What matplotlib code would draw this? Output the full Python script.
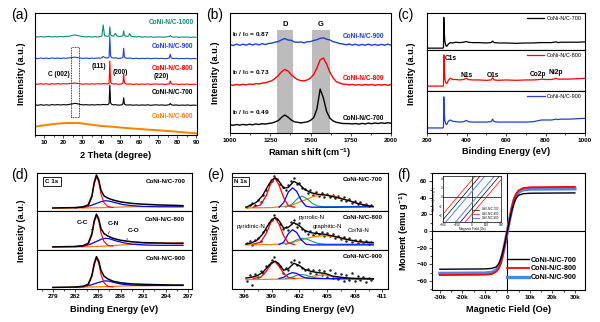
import numpy as np
import matplotlib
matplotlib.use('Agg')
import matplotlib.pyplot as plt
from matplotlib.ticker import MultipleLocator, FuncFormatter, NullLocator
from matplotlib.patches import Rectangle
from matplotlib.lines import Line2D

plt.rcParams['font.family'] = ['Liberation Sans', 'DejaVu Sans']
plt.rcParams['mathtext.fontset'] = 'custom'
plt.rcParams['mathtext.rm'] = 'Liberation Sans'
plt.rcParams['mathtext.bf'] = 'Liberation Sans:bold'
plt.rcParams['axes.linewidth'] = 0.8

# ---------------- DATA ----------------
# (a) XRD
xrd_x = [5, 6.5, 8, 9.5, 11, 12.5, 14, 15.5, 17, 18.5, 20, 21.5, 23, 24.5, 26, 27.5, 29, 30.5, 32, 33.5,
         35, 36.5, 38, 39.5, 40.3, 41.0, 41.7, 43.5, 44.1, 44.5, 44.9, 45.5, 46.5, 47.4, 48.3, 49.5, 50.8,
         51.4, 51.8, 52.2, 53, 54.3, 55, 55.7, 57, 58.5, 60, 61.5, 63, 64.5, 66, 67.5, 69, 70.5, 72, 73.5,
         75, 75.9, 76.4, 76.9, 78, 79.5, 81, 82.5, 84, 85.5, 87, 88.5, 90]
xrd_1000 = [98.4, 97.9, 98.5, 98.0, 98.3, 98.6, 98.0, 98.4, 98.1, 98.5, 98.2, 98.7, 98.8, 99.4, 100.2, 99.5,
            98.8, 98.4, 98.1, 98.4, 97.9, 98.3, 98.0, 98.5, 99.0, 110.0, 99.2, 98.7, 99.5, 108.3, 100.0, 99.2,
            98.8, 101.7, 99.0, 98.5, 98.7, 99.5, 104.0, 99.5, 98.7, 98.8, 101.5, 98.9, 98.3, 98.1, 98.4, 97.8,
            98.2, 97.9, 98.3, 97.7, 98.0, 98.1, 97.8, 98.0, 98.2, 98.4, 99.5, 98.3, 97.9, 98.1, 97.7, 98.0,
            97.8, 98.1, 97.6, 97.9, 97.7]
xrd_900 = [76.8, 76.3, 77.0, 76.5, 76.9, 76.4, 77.1, 76.6, 76.9, 76.5, 77.0, 76.7, 77.2, 77.4, 77.9, 77.3,
           76.9, 76.6, 77.0, 76.5, 76.9, 76.6, 77.0, 76.8, 77.5, 78.5, 77.4, 77.0, 78.0, 98.3, 79.0, 77.3,
           76.9, 77.3, 76.8, 76.6, 77.0, 77.8, 86.7, 77.8, 76.9, 76.6, 77.1, 76.7, 76.4, 76.8, 76.3, 76.7,
           76.4, 76.8, 76.3, 76.6, 76.8, 76.4, 76.7, 76.3, 76.6, 77.2, 80.7, 77.0, 76.5, 76.8, 76.2, 76.6,
           76.3, 76.7, 76.2, 76.5, 76.3]
xrd_800 = [51.2, 50.7, 51.3, 50.8, 51.2, 50.7, 51.3, 50.9, 51.4, 50.9, 51.3, 51.0, 51.4, 51.6, 52.0, 51.5,
           51.1, 50.8, 51.2, 50.8, 51.2, 50.9, 51.3, 51.0, 51.2, 51.5, 51.2, 51.1, 52.0, 74.0, 53.0, 51.4,
           51.0, 51.3, 50.9, 50.8, 51.1, 52.0, 60.7, 52.0, 51.0, 50.8, 51.2, 50.9, 50.6, 51.0, 50.6, 51.0,
           50.7, 51.1, 50.6, 50.9, 51.1, 50.7, 51.0, 50.6, 50.9, 51.3, 54.0, 51.2, 50.7, 51.0, 50.5, 50.9,
           50.6, 51.0, 50.5, 50.8, 50.6]
xrd_700 = [30.2, 29.7, 30.3, 29.8, 30.2, 29.8, 30.4, 30.0, 30.4, 30.0, 30.4, 30.1, 30.6, 31.0, 31.7, 31.2,
           30.5, 30.1, 30.4, 30.0, 30.3, 30.0, 30.4, 30.1, 30.3, 30.6, 30.3, 30.4, 31.5, 50.0, 32.0, 30.6,
           30.1, 30.4, 30.0, 29.9, 30.2, 31.0, 37.3, 31.0, 30.1, 29.9, 30.3, 30.0, 29.8, 30.1, 29.7, 30.1,
           29.8, 30.2, 29.7, 30.0, 30.2, 29.8, 30.1, 29.7, 30.0, 30.4, 31.5, 30.3, 29.8, 30.1, 29.6, 30.0,
           29.7, 30.1, 29.6, 29.9, 29.7]
xrd_600 = [8.3, 8.8, 9.3, 9.6, 10.0, 10.4, 10.8, 11.1, 11.4, 11.6, 11.7, 11.9, 12.0, 11.9, 12.1, 12.0,
           11.7, 11.4, 11.0, 10.6, 10.2, 9.9, 9.6, 9.2, 9.0, 8.9, 8.8, 8.6, 8.5, 8.5, 8.4, 8.3, 8.1, 7.9,
           7.8, 7.6, 7.4, 7.3, 7.2, 7.1, 7.0, 6.8, 6.7, 6.6, 6.4, 6.2, 6.0, 5.8, 5.6, 5.4, 5.2, 5.0, 4.8,
           4.6, 4.4, 4.2, 4.0, 3.9, 3.8, 3.8, 3.6, 3.4, 3.1, 2.9, 2.6, 2.4, 2.1, 1.9, 1.7]
xrd_names = ['CoNi-N/C-1000', 'CoNi-N/C-900', 'CoNi-N/C-800', 'CoNi-N/C-700', 'CoNi-N/C-600']
xrd_label_y = [113, 88, 67, 42, 19]
xrd_hkl = ['C (002)', '(111)', '(200)', '(220)']
xrd_hkl_x = [17.5, 38.6, 50.2, 71.5]
xrd_hkl_y = [60, 68, 63, 58]
xrd_box = [23.8, 17.7, 28.3, 88.3]

# (b) Raman
raman_x = [1000, 1020, 1040, 1060, 1080, 1100, 1120, 1140, 1160, 1180, 1200, 1220, 1240, 1260, 1280, 1300,
           1320, 1340, 1360, 1380, 1400, 1420, 1440, 1460, 1480, 1500, 1520, 1540, 1560, 1580, 1600, 1620,
           1640, 1660, 1680, 1700, 1720, 1740, 1760, 1780, 1800, 1820, 1840, 1860, 1880, 1900, 1920, 1940,
           1960, 1980, 2000]
raman_900 = [88.5, 87.4, 88.9, 87.7, 88.8, 87.8, 89.2, 88.0, 89.1, 88.1, 89.4, 88.4, 89.6, 89.8, 90.9, 91.4,
             93.1, 94.5, 93.0, 92.7, 91.0, 90.7, 91.1, 90.1, 91.3, 91.4, 92.5, 93.3, 94.7, 95.2, 93.8, 93.1,
             91.3, 90.6, 89.4, 89.1, 88.2, 89.0, 87.9, 88.8, 87.6, 88.6, 87.8, 88.9, 87.7, 88.6, 87.6, 88.7,
             87.8, 88.8, 87.9]
raman_800 = [48.3, 47.7, 48.6, 47.9, 48.7, 48.1, 49.0, 48.5, 49.4, 49.1, 49.9, 50.2, 51.3, 52.3, 54.6, 57.4,
             61.1, 63.6, 62.0, 58.4, 55.6, 53.4, 52.4, 52.1, 53.1, 54.9, 58.6, 65.0, 73.2, 75.0, 69.0, 61.0,
             55.1, 51.4, 50.1, 48.9, 48.7, 48.1, 48.6, 47.8, 48.4, 47.7, 48.5, 47.9, 48.6, 47.6, 48.4, 47.8,
             48.5, 47.7, 48.3]
raman_700 = [8.2, 7.7, 8.5, 7.9, 8.6, 8.0, 8.7, 8.2, 9.0, 8.5, 9.3, 8.9, 9.6, 9.9, 11.1, 12.4,
             15.6, 18.0, 15.9, 13.1, 11.2, 10.7, 10.1, 10.6, 11.1, 12.6, 15.4, 24.0, 44.0, 35.0, 21.5, 15.0,
             12.1, 10.7, 10.1, 9.5, 9.4, 9.4, 9.1, 9.5, 8.9, 9.6, 9.1, 9.9, 9.3, 10.0, 9.5, 10.2, 9.6,
             10.3, 9.8]
raman_D = [1294, 1390]
raman_G = [1507, 1621]
raman_ratio = ['0.87', '0.73', '0.49']
raman_ratio_y = [98, 60, 20]
raman_label_y = [96, 55, 15]

# (c) XPS survey
sv_x = [200, 260, 281, 283.5, 285, 287, 290, 295, 300, 308, 318, 330, 345, 365, 385, 400, 408, 430, 460, 500,
        525, 532, 540, 560, 600, 650, 700, 740, 770, 780, 800, 830, 855, 862, 880, 920, 960, 1000]
sv_700 = [0.05, 0.05, 0.05, 0.08, 0.88, 0.55, 0.25, 0.12, 0.10, 0.16, 0.20, 0.19, 0.21, 0.20, 0.21, 0.23,
          0.21, 0.20, 0.20, 0.19, 0.20, 0.24, 0.20, 0.19, 0.19, 0.18, 0.19, 0.19, 0.20, 0.20, 0.20, 0.20,
          0.22, 0.20, 0.21, 0.21, 0.21, 0.22]
sv_800 = [0.12, 0.12, 0.12, 0.15, 0.88, 0.60, 0.30, 0.20, 0.18, 0.26, 0.31, 0.28, 0.28, 0.27, 0.28, 0.31,
          0.28, 0.27, 0.27, 0.26, 0.27, 0.32, 0.27, 0.26, 0.27, 0.26, 0.27, 0.27, 0.28, 0.29, 0.28, 0.28,
          0.31, 0.29, 0.29, 0.29, 0.30, 0.31]
sv_900 = [0.12, 0.12, 0.12, 0.15, 0.86, 0.55, 0.30, 0.22, 0.20, 0.28, 0.31, 0.28, 0.27, 0.26, 0.27, 0.30,
          0.27, 0.26, 0.26, 0.26, 0.27, 0.33, 0.27, 0.26, 0.26, 0.26, 0.26, 0.27, 0.30, 0.31, 0.31, 0.31,
          0.33, 0.32, 0.33, 0.33, 0.34, 0.35]
sv_peaks = ['C1s', 'N1s', 'O1s', 'Co2p', 'Ni2p']
sv_peaks_x = [292, 401, 534, 762, 853]
sv_peaks_y = [0.80, 0.39, 0.37, 0.41, 0.45]

# (d) C 1s
c1s_env_x = [279, 280.5, 282, 283, 283.7, 284.2, 284.5, 284.8, 285.1, 285.4, 285.8, 286.3, 287, 288, 289.5,
             291, 293, 295, 296.3]
c1s_env = {
    '700': [0.08, 0.085, 0.09, 0.11, 0.16, 0.40, 0.75, 0.95, 0.82, 0.55, 0.40, 0.34, 0.29, 0.24, 0.20, 0.18, 0.16, 0.15, 0.14],
    '800': [0.08, 0.085, 0.09, 0.11, 0.17, 0.42, 0.75, 0.92, 0.80, 0.55, 0.42, 0.36, 0.30, 0.25, 0.21, 0.19, 0.18, 0.17, 0.17],
    '900': [0.04, 0.045, 0.05, 0.07, 0.12, 0.35, 0.65, 0.83, 0.72, 0.48, 0.33, 0.26, 0.20, 0.16, 0.13, 0.12, 0.11, 0.10, 0.10],
}
c1s_cc_x = [283, 283.7, 284.2, 284.5, 284.8, 285.1, 285.4, 285.8, 286.3, 287]
c1s_cc = {
    '700': [0.085, 0.12, 0.36, 0.70, 0.90, 0.77, 0.45, 0.22, 0.12, 0.09],
    '800': [0.09, 0.13, 0.38, 0.70, 0.88, 0.75, 0.44, 0.22, 0.12, 0.10],
    '900': [0.05, 0.09, 0.32, 0.60, 0.79, 0.67, 0.38, 0.16, 0.07, 0.05],
}
c1s_cn_x = [282, 283, 284, 284.8, 285.5, 286, 286.5, 287.3, 288.3, 289.5, 291, 293, 295, 296.3]
c1s_cn = {
    '700': [0.085, 0.10, 0.14, 0.20, 0.25, 0.27, 0.26, 0.22, 0.17, 0.14, 0.12, 0.11, 0.11, 0.11],
    '800': [0.09, 0.10, 0.15, 0.22, 0.28, 0.30, 0.29, 0.24, 0.19, 0.15, 0.13, 0.12, 0.12, 0.12],
    '900': [0.05, 0.06, 0.10, 0.15, 0.19, 0.21, 0.20, 0.16, 0.12, 0.10, 0.09, 0.09, 0.09, 0.09],
}
c1s_co_x = [279, 283, 286, 289, 292, 296.3]
c1s_co = {
    '700': [0.07, 0.08, 0.09, 0.11, 0.12, 0.13],
    '800': [0.07, 0.08, 0.10, 0.14, 0.17, 0.19],
    '900': [0.04, 0.05, 0.06, 0.08, 0.09, 0.10],
}

# (e) N 1s
n1s_env_x = [396.2, 396.8, 397.4, 398.0, 398.5, 399.0, 399.4, 399.8, 400.3, 400.8, 401.4, 402.0, 402.6, 403.3,
             404.0, 404.8, 405.6, 406.5, 407.4, 408.3, 409.2, 410.0]
n1s_env = {
    '700': [0.10, 0.16, 0.24, 0.40, 0.62, 0.82, 0.87, 0.78, 0.60, 0.62, 0.78, 0.70, 0.56, 0.48, 0.44, 0.42, 0.38, 0.33, 0.27, 0.20, 0.15, 0.12],
    '800': [0.15, 0.18, 0.25, 0.40, 0.60, 0.78, 0.83, 0.75, 0.56, 0.58, 0.70, 0.62, 0.50, 0.44, 0.42, 0.40, 0.36, 0.31, 0.26, 0.22, 0.20, 0.19],
    '900': [0.28, 0.30, 0.34, 0.42, 0.55, 0.68, 0.71, 0.64, 0.48, 0.52, 0.66, 0.60, 0.50, 0.45, 0.42, 0.40, 0.33, 0.30, 0.28, 0.27, 0.27, 0.26],
}
n1s_pyd_x = [397.0, 397.8, 398.4, 398.9, 399.35, 399.8, 400.3, 400.8, 401.5]
n1s_pyd = {
    '700': [0.10, 0.16, 0.40, 0.72, 0.87, 0.68, 0.35, 0.14, 0.10],
    '800': [0.15, 0.20, 0.42, 0.70, 0.83, 0.66, 0.36, 0.18, 0.14],
    '900': [0.27, 0.30, 0.45, 0.63, 0.71, 0.58, 0.40, 0.30, 0.27],
}
n1s_pyr_x = [399.8, 400.3, 400.8, 401.25, 401.7, 402.2, 402.7, 403.3, 406.0, 410.0]
n1s_pyr = {
    '700': [0.10, 0.22, 0.50, 0.61, 0.52, 0.28, 0.13, 0.10, 0.10, 0.11],
    '800': [0.14, 0.20, 0.42, 0.52, 0.45, 0.26, 0.15, 0.13, 0.13, 0.13],
    '900': [0.27, 0.30, 0.38, 0.42, 0.40, 0.33, 0.28, 0.27, 0.26, 0.26],
}
n1s_gra_x = [400.5, 401.2, 401.8, 402.3, 402.8, 403.4, 404.0, 404.8, 407.0, 410.0]
n1s_gra = {
    '700': [0.10, 0.18, 0.33, 0.39, 0.33, 0.20, 0.13, 0.11, 0.12, 0.12],
    '800': [0.14, 0.20, 0.27, 0.30, 0.28, 0.22, 0.17, 0.15, 0.15, 0.15],
    '900': [0.27, 0.30, 0.36, 0.37, 0.35, 0.30, 0.28, 0.27, 0.27, 0.26],
}
n1s_coni_x = [396.2, 399.0, 401.0, 402.5, 403.5, 404.7, 405.8, 407.0, 408.3, 409.5, 410.0]
n1s_coni = {
    '700': [0.08, 0.09, 0.14, 0.28, 0.38, 0.43, 0.39, 0.30, 0.20, 0.14, 0.12],
    '800': [0.13, 0.14, 0.18, 0.28, 0.34, 0.37, 0.34, 0.27, 0.21, 0.17, 0.16],
    '900': [0.24, 0.25, 0.26, 0.28, 0.33, 0.36, 0.31, 0.27, 0.26, 0.25, 0.25],
}
n1s_pts_x = [396.3, 396.6, 396.9, 397.2, 397.5, 397.8, 398.1, 398.4, 398.7, 399.0, 399.3, 399.6, 399.9, 400.2,
             400.5, 400.8, 401.1, 401.4, 401.7, 402.0, 402.3, 402.6, 402.9, 403.2, 403.5, 403.8, 404.1, 404.4,
             404.7, 405.0, 405.3, 405.6, 405.9, 406.2, 406.5, 406.8, 407.1, 407.4, 407.7, 408.0, 408.3, 408.6,
             408.9, 409.2, 409.5, 409.8]
n1s_pts = {
    '700': [0.10, 0.15, 0.20, 0.16, 0.28, 0.25, 0.42, 0.55, 0.72, 0.80, 0.92, 0.83, 0.70, 0.62, 0.55, 0.68, 0.80,
            0.86, 0.72, 0.75, 0.60, 0.58, 0.48, 0.55, 0.42, 0.50, 0.40, 0.47, 0.38, 0.46, 0.36, 0.42, 0.33, 0.40,
            0.30, 0.36, 0.26, 0.32, 0.22, 0.27, 0.18, 0.24, 0.15, 0.19, 0.12, 0.15],
    '800': [0.17, 0.22, 0.14, 0.26, 0.30, 0.24, 0.45, 0.52, 0.68, 0.78, 0.90, 0.80, 0.66, 0.55, 0.60, 0.52, 0.72,
            0.76, 0.60, 0.68, 0.55, 0.50, 0.42, 0.48, 0.38, 0.46, 0.40, 0.45, 0.36, 0.44, 0.35, 0.40, 0.30, 0.36,
            0.28, 0.34, 0.24, 0.30, 0.20, 0.26, 0.18, 0.25, 0.17, 0.22, 0.15, 0.20],
    '900': [0.20, 0.35, 0.10, 0.38, 0.30, 0.45, 0.40, 0.58, 0.62, 0.75, 0.82, 0.66, 0.60, 0.42, 0.55, 0.50, 0.70,
            0.75, 0.62, 0.68, 0.55, 0.48, 0.52, 0.40, 0.50, 0.38, 0.50, 0.35, 0.45, 0.32, 0.50, 0.28, 0.42, 0.25,
            0.38, 0.20, 0.35, 0.24, 0.40, 0.20, 0.33, 0.22, 0.30, 0.18, 0.28, 0.22],
}

# (f) magnetisation
mag_H = [-30000, -10000, -7000, -5000, -4000, -3000, -2000, -1000, 0, 1000, 2000, 3000, 4000, 5000, 7000, 10000, 30000]
mag_700 = [-46.0, -45.6, -45.0, -43.2, -40.0, -34.0, -25.0, -13.0, 0, 13.0, 25.0, 34.0, 40.0, 43.2, 45.0, 45.6, 46.0]
mag_800 = [-53.0, -52.6, -51.8, -49.0, -45.5, -39.5, -28.5, -14.5, 0, 14.5, 28.5, 39.5, 45.5, 49.0, 51.8, 52.8, 53.3]
mag_900 = [-51.0, -50.6, -49.8, -47.0, -43.5, -37.5, -27.0, -14.0, 0, 14.0, 27.0, 37.5, 43.5, 47.0, 49.8, 50.6, 51.0]
loop_H = [-300, 300]
loop_700 = [[-5.0, 10.0], [-10.0, 5.0]]
loop_800 = [[-3.75, 11.25], [-11.25, 3.75]]
loop_900 = [[-6.25, 8.75], [-8.75, 6.25]]

samples = ['700', '800', '900']
names = ['CoNi-N/C-700', 'CoNi-N/C-800', 'CoNi-N/C-900']

# ---------------- STYLE ----------------
W, H = 600, 322
fig = plt.figure(figsize=(6, 3.22), dpi=100)
C_TEAL, C_BLUE, C_RED, C_ORG = '#12877b', '#1f3fd6', '#ff0000', '#ff8000'
TICK_FS = 4.6
LAB_FS = 6.6


def rect(x0, y0, x1, y1):
    return [x0 / W, 1 - y1 / H, (x1 - x0) / W, (y1 - y0) / H]


def style(ax, labels=True):
    ax.tick_params(which='both', direction='out', width=0.5, labelsize=TICK_FS, pad=1.2)
    ax.tick_params(which='major', length=2.2)
    ax.tick_params(which='minor', length=1.2)
    ax.yaxis.set_major_locator(NullLocator())
    ax.yaxis.set_minor_locator(NullLocator())
    for t in ax.get_xticklabels():
        t.set_fontweight('bold')
    if not labels:
        ax.tick_params(axis='x', which='both', length=0, labelbottom=False)


def ftext(x, y, s, **kw):
    fig.text(x / W, 1 - y / H, s, **kw)


# panel letters
for lab, (px, py) in zip(['(a)', '(b)', '(c)', '(d)', '(e)', '(f)'],
                         [(11, 15), (206, 15), (397, 15), (11, 175), (207, 175), (397, 175)]):
    ftext(px, py, lab, fontsize=10, ha='left', va='center')

# ---------------- (a) ----------------
ax = fig.add_axes(rect(35, 13, 197, 135))
cols_a = [C_TEAL, C_BLUE, C_RED, 'black', C_ORG]
for ys, c, lw in zip([xrd_1000, xrd_900, xrd_800, xrd_700, xrd_600], cols_a, [0.8, 0.8, 0.8, 0.8, 1.4]):
    ax.plot(xrd_x, ys, color=c, lw=lw)
for nm, c, yy in zip(xrd_names, cols_a, xrd_label_y):
    ax.text(88.6, yy, nm, color=c, fontsize=4.7, fontweight='bold', ha='right', va='center')
for s, xx, yy in zip(xrd_hkl, xrd_hkl_x, xrd_hkl_y):
    ax.text(xx, yy, s, fontsize=4.7, fontweight='bold', ha='center', va='center')
ax.add_patch(Rectangle((xrd_box[0], xrd_box[1]), xrd_box[2] - xrd_box[0], xrd_box[3] - xrd_box[1],
                       fill=False, ls=(0, (1, 1)), lw=0.6, ec='black'))
ax.set_xlim(5, 90.5)
ax.set_ylim(0, 122)
ax.set_xticks([10, 20, 30, 40, 50, 60, 70, 80, 90])
ax.xaxis.set_minor_locator(MultipleLocator(5))
style(ax)
ftext(116, 155, '2 Theta (degree)', fontsize=LAB_FS, fontweight='bold', ha='center', va='center')
ftext(21, 74, 'Intensity (a.u.)', fontsize=LAB_FS, fontweight='bold', ha='center', va='center', rotation=90)

# ---------------- (b) ----------------
ax = fig.add_axes(rect(230, 13, 391, 133))
ax.axvspan(raman_D[0], raman_D[1], ymin=0, ymax=0.86, color='#bcbcbc', lw=0)
ax.axvspan(raman_G[0], raman_G[1], ymin=0, ymax=0.86, color='#bcbcbc', lw=0)
ax.text(sum(raman_D) / 2, 108, 'D', fontsize=5.5, fontweight='bold', ha='center', va='center')
ax.text(sum(raman_G) / 2, 108, 'G', fontsize=5.5, fontweight='bold', ha='center', va='center')
for ys, c in zip([raman_900, raman_800, raman_700], [C_BLUE, C_RED, 'black']):
    ax.plot(raman_x, ys, color=c, lw=1.0)
for r, yy in zip(raman_ratio, raman_ratio_y):
    ax.text(1012, yy, r'I$_\mathbf{D}$ / I$_\mathbf{G}$ = ' + r, fontsize=4.6, fontweight='bold',
            ha='left', va='center')
for nm, c, yy in zip(['CoNi-N/C-900', 'CoNi-N/C-800', 'CoNi-N/C-700'], [C_BLUE, C_RED, 'black'], raman_label_y):
    ax.text(1955, yy, nm, color=c, fontsize=4.7, fontweight='bold', ha='right', va='center')
ax.set_xlim(1000, 2000)
ax.set_ylim(0, 120)
ax.set_xticks([1000, 1250, 1500, 1750, 2000])
ax.xaxis.set_minor_locator(MultipleLocator(125))
style(ax)
ftext(310, 153, r'Raman shift (cm$^{\mathbf{-1}}$)', fontsize=LAB_FS, fontweight='bold', ha='center', va='center')
ftext(216, 73, 'Intensity (a.u.)', fontsize=LAB_FS, fontweight='bold', ha='center', va='center', rotation=90)

# ---------------- (c) ----------------
rows_c = [(13, 50), (50, 91), (91, 133)]
for i, (s, ys, c) in enumerate(zip(samples, [sv_700, sv_800, sv_900], ['black', C_RED, C_BLUE])):
    ax = fig.add_axes(rect(427, rows_c[i][0], 585, rows_c[i][1]))
    ax.plot(sv_x, ys, color=c, lw=0.9, label=names[i])
    ax.set_xlim(200, 1000)
    ax.set_ylim(0, 1)
    ax.legend(loc='upper right', frameon=False, fontsize=4.0, handlelength=3.2, handletextpad=0.4,
              borderaxespad=0.3, borderpad=0.3)
    ax.set_xticks([200, 400, 600, 800, 1000])
    ax.xaxis.set_minor_locator(MultipleLocator(100))
    style(ax, labels=(i == 2))
    if i == 1:
        for t, xx, yy in zip(sv_peaks, sv_peaks_x, sv_peaks_y):
            ax.text(xx, yy, t, fontsize=4.8, fontweight='bold', ha='left' if t == 'C1s' else 'center', va='center')
ftext(506, 152, 'Binding Energy (eV)', fontsize=LAB_FS, fontweight='bold', ha='center', va='center')
ftext(412, 74, 'Intensity (a.u.)', fontsize=LAB_FS, fontweight='bold', ha='center', va='center', rotation=90)

# ---------------- (d) ----------------
rows_de = [(173, 211), (211, 250), (250, 289)]
for i, s in enumerate(samples):
    ax = fig.add_axes(rect(37, rows_de[i][0], 192, rows_de[i][1]))
    ax.plot(c1s_co_x, c1s_co[s], color=C_ORG, lw=0.9)
    ax.plot(c1s_cn_x, c1s_cn[s], color='#0000ff', lw=0.9)
    ax.plot(c1s_cc_x, c1s_cc[s], color=C_RED, lw=0.8)
    ax.plot(c1s_env_x, c1s_env[s], color='black', lw=1.1)
    ax.set_xlim(276.9, 297.5)
    ax.set_ylim(0, 1)
    ax.text(296.6, 0.78, names[i], fontsize=4.5, fontweight='bold', ha='right', va='center')
    ax.set_xticks([279, 282, 285, 288, 291, 294, 297])
    ax.xaxis.set_minor_locator(MultipleLocator(1.5))
    style(ax, labels=(i == 2))
    if i == 0:
        ax.text(278.9, 0.78, 'C 1s', fontsize=4.5, fontweight='bold', ha='center', va='center',
                bbox=dict(boxstyle='square,pad=0.35', fc='white', ec='black', lw=0.6))
    if i == 1:
        kw = dict(fontsize=4.6, fontweight='bold', ha='center', va='center',
                  arrowprops=dict(arrowstyle='-', lw=0.4, color='black'))
        ax.annotate('C-C', xy=(284.6, 0.45), xytext=(282.9, 0.71), **kw)
        ax.annotate('C-N', xy=(286.2, 0.34), xytext=(287.0, 0.68), **kw)
        ax.annotate('C-O', xy=(288.6, 0.20), xytext=(289.7, 0.49), **kw)
ftext(114, 309, 'Binding Energy (eV)', fontsize=LAB_FS, fontweight='bold', ha='center', va='center')
ftext(21, 231, 'Intensity (a.u.)', fontsize=LAB_FS, fontweight='bold', ha='center', va='center', rotation=90)

# ---------------- (e) ----------------
for i, s in enumerate(samples):
    ax = fig.add_axes(rect(232, rows_de[i][0], 388, rows_de[i][1]))
    ax.plot(n1s_pts_x, n1s_pts[s], ls='none', marker='o', ms=0.8, color='#222222')
    ax.plot(n1s_coni_x, n1s_coni[s], color=C_ORG, lw=0.9)
    ax.plot(n1s_gra_x, n1s_gra[s], color='#159a8a', lw=0.8)
    ax.plot(n1s_pyr_x, n1s_pyr[s], color='#0000ff', lw=0.9)
    ax.plot(n1s_pyd_x, n1s_pyd[s], color=C_RED, lw=0.9)
    ax.plot(n1s_env_x, n1s_env[s], color='black', lw=1.0)
    ax.set_xlim(394.7, 411.6)
    ax.set_ylim(0, 1)
    ax.text(411.0, 0.83, names[i], fontsize=4.5, fontweight='bold', ha='right', va='center')
    ax.set_xticks([396, 399, 402, 405, 408, 411])
    ax.xaxis.set_minor_locator(MultipleLocator(1.5))
    style(ax, labels=(i == 2))
    if i == 0:
        ax.text(395.6, 0.78, 'N 1s', fontsize=4.5, fontweight='bold', ha='center', va='center',
                bbox=dict(boxstyle='square,pad=0.35', fc='white', ec='black', lw=0.6))
    if i == 1:
        kw = dict(fontsize=4.4, ha='center', va='center',
                  arrowprops=dict(arrowstyle='-', lw=0.4, color='black'))
        ax.annotate('pyridinic-N', xy=(398.7, 0.62), xytext=(396.8, 0.61), **kw)
        ax.annotate('pyrrolic-N', xy=(401.3, 0.62), xytext=(403.3, 0.84), **kw)
        ax.annotate('graphitic-N', xy=(403.4, 0.34), xytext=(405.0, 0.61), **kw)
        ax.annotate('Co/Ni-N', xy=(406.6, 0.30), xytext=(408.4, 0.50), **kw)
ftext(310, 310, 'Binding Energy (eV)', fontsize=LAB_FS, fontweight='bold', ha='center', va='center')
ftext(216, 231, 'Intensity (a.u.)', fontsize=LAB_FS, fontweight='bold', ha='center', va='center', rotation=90)

# ---------------- (f) ----------------
ax = fig.add_axes(rect(432, 173, 585, 290))
ax.axhline(0, color='black', lw=0.8)
ax.axvline(0, color='black', lw=0.8)
l9, = ax.plot(mag_H, mag_900, color='#4f86e6', lw=2.4)
l8, = ax.plot(mag_H, mag_800, color=C_RED, lw=1.3)
l7, = ax.plot(mag_H, mag_700, color='black', lw=1.0)
ax.set_xlim(-33500, 34500)
ax.set_ylim(-71, 70)
ax.set_xticks([-30000, -20000, -10000, 0, 10000, 20000, 30000])
ax.xaxis.set_minor_locator(MultipleLocator(5000))
ax.xaxis.set_major_formatter(FuncFormatter(lambda v, p: '0' if v == 0 else '%dk' % int(round(v / 1000))))
style(ax)
ax.set_yticks([-60, -40, -20, 0, 20, 40, 60])
ax.yaxis.set_minor_locator(MultipleLocator(10))
for t in ax.get_yticklabels():
    t.set_fontweight('bold')
ax.legend([l7, l8, l9], names, loc='lower right', frameon=False, prop=dict(size=5.2, weight='bold'),
          handlelength=3.0, handletextpad=0.2, labelspacing=0.25, borderaxespad=0.8)
ftext(508, 309, 'Magnetic Field (Oe)', fontsize=LAB_FS, fontweight='bold', ha='center', va='center')
ftext(404, 231, r'Moment (emu g$^{\mathbf{-1}}$)', fontsize=LAB_FS, fontweight='bold', ha='center', va='center',
      rotation=90)

ins = fig.add_axes(rect(443, 176, 501, 222))
ins.axhline(0, color='black', lw=0.5)
ins.axvline(0, color='black', lw=0.5)
for br in loop_700:
    ins.plot(loop_H, br, color='black', lw=0.5)
for br in loop_800:
    ins.plot(loop_H, br, color=C_RED, lw=0.5)
for br in loop_900:
    ins.plot(loop_H, br, color='#4f86e6', lw=0.7)
ins.set_xlim(-300, 300)
ins.set_ylim(-5.5, 4.6)
ins.set_xticks([-300, -150, 0, 150, 300])
ins.set_yticks([-4, -2, 0, 2, 4])
ins.tick_params(labelsize=2.2, length=1, width=0.3, pad=0.4, direction='in')
for sp in ins.spines.values():
    sp.set_linewidth(0.5)
ins.set_xlabel('Magnetic Field (Oe)', fontsize=2.2, labelpad=0.4)
ins.set_ylabel(r'Moment (emu g$^{-1}$)', fontsize=2.2, labelpad=0.3)
ins.legend([Line2D([], [], color='black', lw=0.5), Line2D([], [], color=C_RED, lw=0.5),
            Line2D([], [], color='#4f86e6', lw=0.7)], names, loc='lower right', frameon=False,
           fontsize=2.0, handlelength=2.5, labelspacing=0.1, borderaxespad=0.3)

fig.savefig('out.png', dpi=100)
